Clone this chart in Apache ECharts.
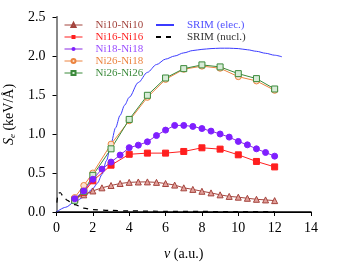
<!DOCTYPE html>
<html><head><meta charset="utf-8">
<script src="https://cdn.jsdelivr.net/npm/echarts@6/dist/echarts.min.js"></script>
<style>html,body{margin:0;padding:0;background:#fff;}#c{width:337px;height:262px;}</style>
</head><body><div id="c"></div>
<script>
var vHalf = [1,1.5,2,2.5,3,3.5,4,4.5,5,5.5,6,6.5,7,7.5,8,8.5,9,9.5,10,10.5,11,11.5,12];
var vInt = [1,1.5,2,3,4,5,6,7,8,9,10,11,12];
var ni10 = [0.17,0.22,0.27,0.31,0.34,0.365,0.38,0.385,0.386,0.38,0.365,0.345,0.31,0.29,0.266,0.245,0.22,0.20,0.19,0.176,0.163,0.155,0.146];
var ni16 = [0.16,0.25,0.40,0.60,0.74,0.755,0.755,0.776,0.823,0.806,0.733,0.648,0.578];
var ni18 = [0.17,0.27,0.42,0.55,0.64,0.73,0.825,0.857,0.9,0.98,1.05,1.11,1.11,1.097,1.07,1.037,1.0,0.96,0.905,0.861,0.81,0.763,0.716];
var ni26_18 = [0.185,0.34,0.50,0.87,1.17,1.47,1.70,1.83,1.87,1.843,1.735,1.68,1.56];
var ni26_26 = [0.15,0.26,0.47,0.81,1.187,1.496,1.718,1.838,1.886,1.86,1.774,1.71,1.577];
var srimElecV = [0,0.5,1,1.5,2,2.25,2.5,2.75,3,3.25,3.5,3.75,4,4.5,5,5.5,6,6.5,7,7.5,8,8.5,9,9.5,10,10.5,11,11.5,12,12.4];
var srimElec = [0,0.06,0.13,0.19,0.30,0.37,0.48,0.66,0.88,1.08,1.24,1.37,1.47,1.66,1.79,1.89,1.96,2.00,2.04,2.07,2.085,2.095,2.10,2.10,2.095,2.08,2.06,2.035,2.01,1.99];
var srimNuclV = [0.02,0.1,0.2,0.4,0.6,0.8,1,1.5,2,3,4,6,8,10,12];
var srimNucl = [0.12,0.24,0.25,0.19,0.15,0.12,0.095,0.05,0.03,0.02,0.014,0.009,0.007,0.005,0.004];
var xTicks = [0,2,4,6,8,10,12,14];
var yTicks = [0.0,0.5,1.0,1.5,2.0,2.5];

function pairs(xs, ys){ return xs.map(function(x,i){return [x, ys[i]];}); }
var FONT = 'Liberation Serif';
var chart = echarts.init(document.getElementById('c'), null, {renderer:'canvas'});
var C = {ni10:'#a3443d', ni16:'#ff1f1f', ni18:'#8a2be2', o:'#ec8440', g:'#3b8a3b', b:'#3b3bff', k:'#000'};
function legendItem(name,color,noSym){
  var o = {name:name, textStyle:{color:color}};
  if (noSym) o.itemStyle = {color:'rgba(0,0,0,0)', borderColor:'rgba(0,0,0,0)', borderWidth:0};
  return o;
}
chart.setOption({
  animation:false,
  grid:{left:56.5, right:26, top:17, bottom:50, containLabel:false, outerBoundsMode:'none'},
  legend:[{
    orient:'vertical', left:59, top:14, itemGap:0, itemWidth:18, itemHeight:5,
    lineStyle:{width:1},
    textStyle:{fontFamily:FONT, fontSize:11, lineHeight:12, padding:[0,0,0,8]},
    data:[legendItem('Ni10-Ni10',C.ni10),legendItem('Ni16-Ni16',C.ni16),legendItem('Ni18-Ni18','#9a4cff'),legendItem('Ni26-Ni18',C.o),legendItem('Ni26-Ni26',C.g)]
  },{
    orient:'vertical', left:150, top:14, itemGap:0, itemWidth:18, itemHeight:5,
    textStyle:{fontFamily:FONT, fontSize:11, lineHeight:12, padding:[0,0,0,8]},
    data:[legendItem('SRIM (elec.)','#5050ff',true),legendItem('SRIM (nucl.)','#333',true)]
  }],
  xAxis:[{
    type:'value', min:0, max:14, interval:2,
    name:'{i|v} (a.u.)', nameLocation:'middle', nameGap:35,
    nameTextStyle:{fontFamily:FONT, fontSize:14, color:'#000', rich:{i:{fontFamily:FONT, fontStyle:'italic', fontSize:14}}},
    axisLine:{onZero:false, lineStyle:{color:'#000', width:1.5}},
    axisTick:{show:true, inside:false, length:4, lineStyle:{color:'#000'}},
    axisLabel:{fontFamily:FONT, fontSize:14, color:'#000', margin:9, formatter:function(v){return xTicks.indexOf(v)>=0?String(v):'';}},
    splitLine:{show:false}
  },{
    type:'value', position:'top', min:0, max:14,
    axisLine:{show:true, lineStyle:{color:'#000', width:1}}, axisTick:{show:false}, axisLabel:{show:false}, splitLine:{show:false}
  }],
  yAxis:[{
    type:'value', min:0, max:2.5, interval:0.5,
    name:'{i|S}{s|e} (keV/Å)', nameLocation:'middle', nameGap:39,
    nameTextStyle:{fontFamily:FONT, fontSize:14, color:'#000', rich:{i:{fontFamily:FONT, fontStyle:'italic', fontSize:14}, s:{fontFamily:FONT, fontStyle:'italic', fontSize:9, verticalAlign:'bottom', padding:[6,0,0,0]}}},
    axisLine:{onZero:false, lineStyle:{color:'#888', width:2}},
    axisTick:{show:true, inside:false, length:4, lineStyle:{color:'#000'}},
    axisLabel:{fontFamily:FONT, fontSize:14, color:'#000', margin:11, formatter:function(v){return v.toFixed(1);}},
    splitLine:{show:false}
  },{
    type:'value', position:'right', min:0, max:2.5,
    axisLine:{show:true, lineStyle:{color:'#888', width:2}}, axisTick:{show:false}, axisLabel:{show:false}, splitLine:{show:false}
  }],
  series:[
    {name:'Ni10-Ni10', type:'line', data:pairs(vHalf,ni10), symbol:'triangle', symbolSize:6,
      lineStyle:{color:C.ni10, width:1}, itemStyle:{color:'#e2a09b', borderColor:C.ni10, borderWidth:1}, z:3},
    {name:'Ni16-Ni16', type:'line', data:pairs(vInt,ni16), symbol:'rect', symbolSize:6,
      lineStyle:{color:C.ni16, width:1}, itemStyle:{color:C.ni16, borderColor:C.ni16}, z:3},
    {name:'Ni18-Ni18', type:'line', data:pairs(vHalf,ni18), symbol:'circle', symbolSize:6,
      lineStyle:{color:C.ni18, width:1}, itemStyle:{color:'#7f1fff', borderColor:'#7f1fff'}, z:4},
    {name:'Ni26-Ni18', type:'line', data:pairs(vInt,ni26_18), symbol:'circle', symbolSize:6,
      lineStyle:{color:C.o, width:1}, itemStyle:{color:'#fbe3d0', borderColor:C.o, borderWidth:1}, z:3},
    {name:'Ni26-Ni26', type:'line', data:pairs(vInt,ni26_26), symbol:'rect', symbolSize:6,
      lineStyle:{color:C.g, width:1}, itemStyle:{color:'#d8ecd8', borderColor:C.g, borderWidth:1}, z:3},
    {name:'SRIM (elec.)', type:'line', data:pairs(srimElecV,srimElec), smooth:0.3, smoothMonotone:'x', symbol:'none', showSymbol:false,
      lineStyle:{color:C.b, width:1}, itemStyle:{color:C.b}, z:2},
    {name:'SRIM (nucl.)', type:'line', data:pairs(srimNuclV,srimNucl), smooth:0.3, smoothMonotone:'x', symbol:'none', showSymbol:false,
      lineStyle:{color:C.k, width:1.2, type:[5,5]}, itemStyle:{color:C.k}, z:2}
  ]
});
</script></body></html>
